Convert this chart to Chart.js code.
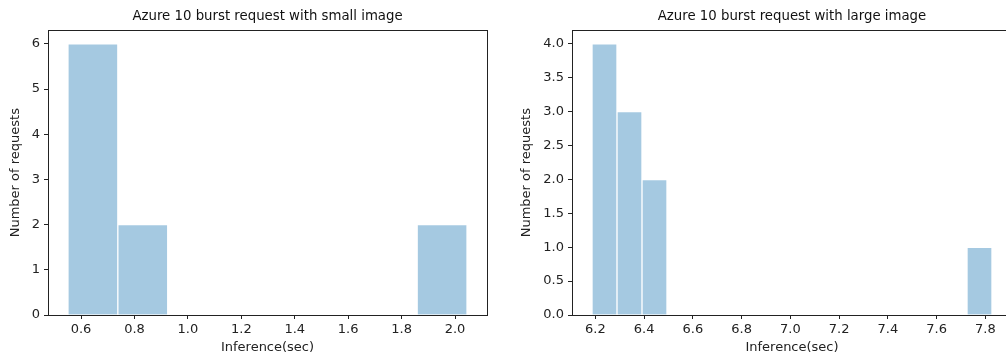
<!DOCTYPE html>
<html>
<head>
<meta charset="utf-8">
<script src="https://cdn.jsdelivr.net/npm/chart.js@4"></script>
<style>
  html, body { margin: 0; padding: 0; background: #fff; overflow: hidden; }
  body { width: 1006px; height: 357px; position: relative; }
  canvas { position: absolute; top: 0; }
  #smallChart { left: 0; }
  #largeChart { left: 500px; }
</style>
</head>
<body>
<canvas id="smallChart" width="500" height="357"></canvas>
<canvas id="largeChart" width="520" height="357"></canvas>
<script>
  // Histogram counts and the min / max inference time of each run
  const smallCounts = [6, 2, 0, 0, 0, 0, 0, 2];
  const smallRange = [0.551, 2.045];
  const largeCounts = [4, 3, 2, 0, 0, 0, 0, 0, 0, 0, 0, 0, 0, 0, 0, 1];
  const largeRange = [6.186, 7.827];

  // Tick labels
  const smallXTicks = [0.6, 0.8, 1.0, 1.2, 1.4, 1.6, 1.8, 2.0];
  const smallYTicks = [0, 1, 2, 3, 4, 5, 6];
  const largeXTicks = [6.2, 6.4, 6.6, 6.8, 7.0, 7.2, 7.4, 7.6, 7.8];
  const largeYTicks = [0, 0.5, 1.0, 1.5, 2.0, 2.5, 3.0, 3.5, 4.0];

  const textColor = '#222';
  const barFill = 'rgba(31, 119, 180, 0.4)';
  const labelFont = { family: 'DejaVu Sans', size: 13 };

  // draw the box around the plot area (matplotlib spines)
  const frame = {
    id: 'frame',
    afterDatasetsDraw(chart) {
      const { ctx, chartArea: a } = chart;
      ctx.save();
      ctx.strokeStyle = textColor;
      ctx.lineWidth = 1;
      ctx.strokeRect(Math.round(a.left) + 0.5, Math.round(a.top) + 0.5,
        Math.round(a.right - a.left), Math.round(a.bottom - a.top));
      ctx.restore();
    }
  };

  function makeHist(id, counts, range, xTicks, yTicks, yDigits, title, yWidth, yTitlePad, padRight) {
    const lo = range[0], hi = range[1];
    const w = (hi - lo) / counts.length;
    const points = counts.map((c, i) => ({ x: lo + (i + 0.5) * w, y: c }));
    const margin = (hi - lo) * 0.05;
    const yMax = Math.max(...counts) * 1.05;

    return new Chart(document.getElementById(id), {
      type: 'bar',
      data: {
        datasets: [{
          data: points,
          backgroundColor: barFill,
          borderColor: 'rgba(255, 255, 255, 0.35)',
          borderWidth: 1,
          barPercentage: 1,
          categoryPercentage: 1
        }]
      },
      plugins: [frame],
      options: {
        responsive: false,
        animation: false,
        layout: { padding: { left: 0, right: padRight, top: 0, bottom: 0 } },
        plugins: {
          legend: { display: false },
          tooltip: { enabled: false },
          title: {
            display: true,
            text: title,
            fullSize: false,
            color: '#111',
            font: { family: 'DejaVu Sans', size: 13.3, weight: 'normal' },
            padding: { top: 9, bottom: 5.4 }
          }
        },
        scales: {
          x: {
            type: 'linear',
            offset: false,
            min: lo - margin,
            max: hi + margin,
            afterBuildTicks: axis => { axis.ticks = xTicks.map(v => ({ value: v })); },
            afterFit: axis => { axis.height = 42; },
            grid: { offset: false, drawOnChartArea: false, drawTicks: true, tickLength: 4, color: textColor },
            border: { display: false },
            ticks: {
              color: textColor,
              padding: 3,
              maxRotation: 0,
              autoSkip: false,
              font: labelFont,
              callback: v => v.toFixed(1)
            },
            title: {
              display: true,
              text: 'Inference(sec)',
              color: textColor,
              padding: { top: 0, bottom: 1.2 },
              font: labelFont
            }
          },
          y: {
            min: 0,
            max: yMax,
            afterBuildTicks: axis => { axis.ticks = yTicks.map(v => ({ value: v })); },
            afterFit: axis => { axis.width = yWidth; },
            grid: { drawOnChartArea: false, drawTicks: true, tickLength: 4, color: textColor },
            border: { display: false },
            ticks: {
              color: textColor,
              padding: 4,
              autoSkip: false,
              font: labelFont,
              callback: v => v.toFixed(yDigits)
            },
            title: {
              display: true,
              text: 'Number of requests',
              color: textColor,
              padding: { top: yTitlePad, bottom: 0 },
              font: labelFont
            }
          }
        }
      }
    });
  }

  makeHist('smallChart', smallCounts, smallRange, smallXTicks, smallYTicks, 0,
    'Azure 10 burst request with small image', 48, 8, 13);
  makeHist('largeChart', largeCounts, largeRange, largeXTicks, largeYTicks, 1,
    'Azure 10 burst request with large image', 72, 18.7, 8);
</script>
</body>
</html>
